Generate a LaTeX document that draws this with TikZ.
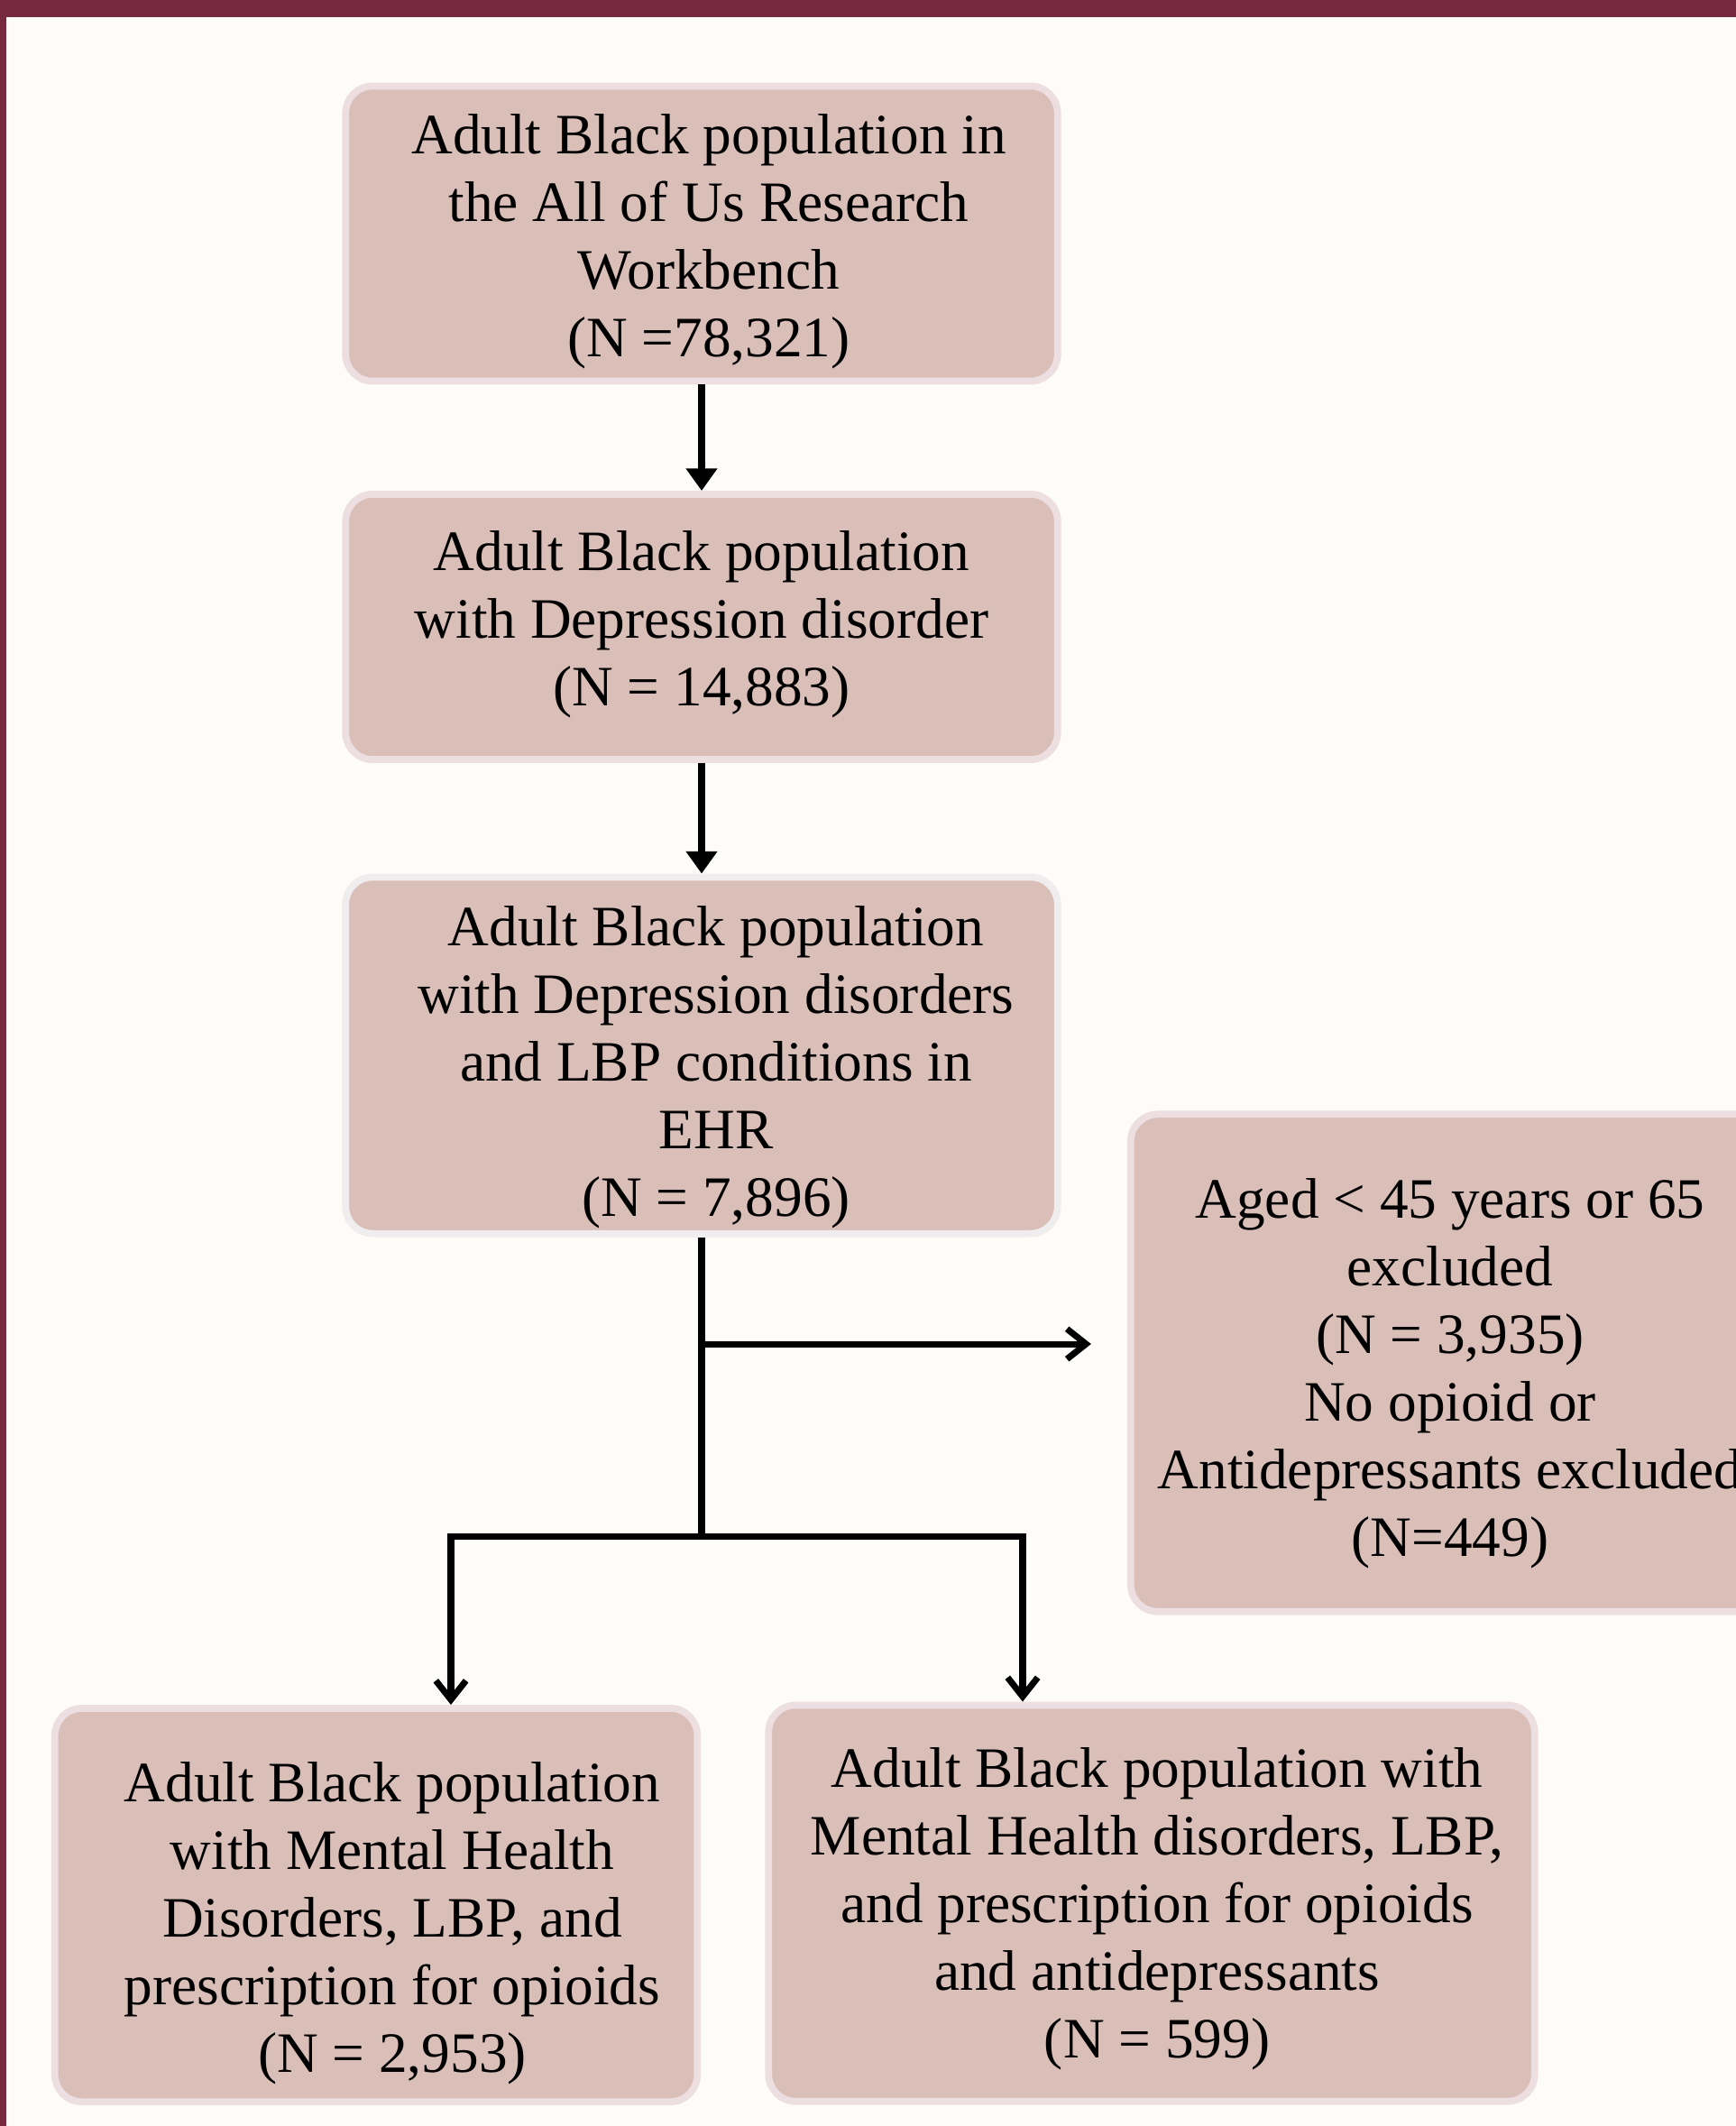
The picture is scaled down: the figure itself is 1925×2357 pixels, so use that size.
\documentclass[tikz,border=0pt]{standalone}
\usepackage{fontspec}
\setmainfont{Liberation Serif}
\usetikzlibrary{arrows.meta}
\definecolor{frame}{HTML}{772A3F}
\definecolor{paper}{HTML}{FDFCF9}
\definecolor{boxfill}{HTML}{DABEB8}
\definecolor{boxedge}{HTML}{EDDEE1}
\tikzset{
  stagebox/.style={draw=boxedge, line width=2.2pt, fill=boxfill, rounded corners=3mm, inner sep=0pt},
  stagetext/.style={align=center, inner sep=0pt, font=\fontsize{18}{21.3}\selectfont},
  flow/.style={line width=2pt, -{Triangle[length=7pt,width=9.5pt]}},
  branch/.style={line width=2pt, -{Straight Barb[length=6pt,width=9.5pt]}},
  link/.style={line width=2pt}
}
\begin{document}
\begin{tikzpicture}[x=0.01cm, y=-0.01cm]
      \clip (0, 0) rectangle (1925, 2357);
      \fill[paper] (0, 0) rectangle (1925, 2357);
      \fill[frame] (0, 0) rectangle (1925, 19);
      \fill[frame] (0, 0) rectangle (7, 2357);
      \node[stagebox, minimum width=78.9mm, minimum height=32.7mm] (total) at (778, 259) {};
      \node[stagebox, minimum width=78.9mm, minimum height=29.4mm] (depr) at (778, 695) {};
      \node[stagebox, draw=boxedge!60!gray!25, minimum width=78.9mm, minimum height=39.5mm] (lbp) at (778, 1170) {};
      \node[stagebox, minimum width=70.8mm, minimum height=55.1mm] (excl) at (1608, 1511) {};
      \node[stagebox, minimum width=71.2mm, minimum height=43.6mm] (opioid) at (417, 2112) {};
      \node[stagebox, minimum width=84.9mm, minimum height=43.9mm] (both) at (1277, 2110) {};
      \node[stagetext] (total-t) at (786, 268)
        {Adult Black population in\\the All of Us Research\\Workbench\\(N =78,321)};
      \node[stagetext] (depr-t) at (778, 692)
        {Adult Black population\\with Depression disorder\\(N = 14,883)};
      \node[stagetext] (lbp-t) at (794, 1183)
        {Adult Black population\\with Depression disorders\\and LBP conditions in\\EHR\\(N = 7,896)};
      \node[stagetext] (excl-t) at (1608, 1523)
        {Aged < 45 years or 65\\excluded\\(N = 3,935)\\No opioid or\\Antidepressants excluded\\(N=449)};
      \node[stagetext] (opioid-t) at (435, 2132)
        {Adult Black population\\with Mental Health\\Disorders, LBP, and\\prescription for opioids\\(N = 2,953)};
      \node[stagetext] (both-t) at (1283, 2116)
        {Adult Black population with\\Mental Health disorders, LBP,\\and prescription for opioids\\and antidepressants\\(N = 599)};
      \coordinate (fork) at (780, 1490);
      \coordinate (jl) at (500, 1703);
      \coordinate (jr) at (1134, 1703);
      \draw[flow] (total) -- (depr);
      \draw[flow] (depr) -- (lbp);
      \draw[link] (lbp.south) -- (lbp.south |- jl);
      \draw[branch, shorten >=4mm] (fork) -- (fork -| excl.west);
      \draw[link] ([xshift=-1pt]jl) -- ([xshift=1pt]jr);
      \draw[branch] (jl) -- (opioid.north -| jl);
      \draw[branch] (jr) -- (both.north -| jr);
    \end{tikzpicture}
\end{document}
